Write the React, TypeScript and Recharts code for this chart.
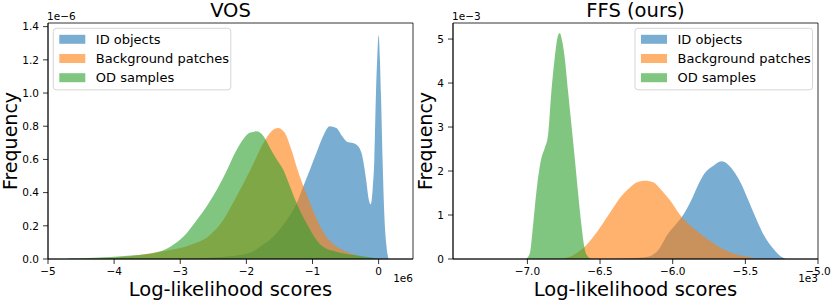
import React from "react";
import { Area, ComposedChart, ReferenceArea, XAxis, YAxis } from "recharts";

const FONT = "'DejaVu Sans', sans-serif";

const seriesNames = ["ID objects", "Background patches", "OD samples"];
const seriesKeys = ["id", "bg", "od"];
const seriesColors = ["#1f77b4", "#ff7f0e", "#2ca02c"];

// VOS: x in 1e6, y in 1e-6
const vosIdX = [-2.7, -2.4, -2.1, -1.9, -1.79, -1.59, -1.39, -1.24, -1.14, -1.04, -0.94, -0.84, -0.74, -0.64, -0.55, -0.47, -0.41, -0.34, -0.26, -0.19, -0.15, -0.12, -0.09, -0.065, -0.04, -0.02, 0.0, 0.02, 0.035, 0.06, 0.085, 0.12, 0.15];
const vosIdY = [0.004, 0.012, 0.024, 0.045, 0.074, 0.135, 0.235, 0.336, 0.437, 0.537, 0.64, 0.74, 0.8, 0.79, 0.74, 0.705, 0.7, 0.69, 0.64, 0.48, 0.36, 0.33, 0.42, 0.6, 1.0, 1.22, 1.35, 1.2, 1.0, 0.6, 0.28, 0.074, 0];
const vosBgX = [-4.5, -4.0, -3.45, -3.15, -2.85, -2.55, -2.35, -2.15, -1.94, -1.74, -1.62, -1.52, -1.42, -1.32, -1.22, -1.1, -1.0, -0.9, -0.8, -0.7, -0.55, -0.4, -0.25, -0.1];
const vosBgY = [0.002, 0.008, 0.034, 0.054, 0.085, 0.145, 0.235, 0.376, 0.537, 0.7, 0.77, 0.789, 0.76, 0.66, 0.53, 0.4, 0.3, 0.21, 0.14, 0.095, 0.055, 0.03, 0.012, 0];
const vosOdX = [-4.7, -4.3, -4.0, -3.7, -3.4, -3.15, -2.95, -2.75, -2.58, -2.42, -2.3, -2.17, -2.05, -1.95, -1.85, -1.74, -1.64, -1.54, -1.44, -1.34, -1.24, -1.09, -0.94, -0.84, -0.64, -0.4, -0.19, 0.0];
const vosOdY = [0.003, 0.008, 0.013, 0.022, 0.036, 0.074, 0.135, 0.235, 0.33, 0.437, 0.53, 0.64, 0.72, 0.76, 0.769, 0.74, 0.668, 0.6, 0.537, 0.437, 0.336, 0.215, 0.115, 0.074, 0.044, 0.025, 0.014, 0];
const vosXTicks = [-5, -4, -3, -2, -1, 0];
const vosYTicks = [0, 0.2, 0.4, 0.6, 0.8, 1.0, 1.2, 1.4];

// FFS: x in 1e3, y in 1e-3
const ffsIdX = [-6.4, -6.25, -6.17, -6.1, -6.03, -5.97, -5.92, -5.87, -5.83, -5.78, -5.72, -5.665, -5.62, -5.57, -5.52, -5.48, -5.43, -5.38, -5.3, -5.26, -5.22];
const ffsIdY = [0, 0.02, 0.05, 0.2, 0.585, 0.82, 1.04, 1.35, 1.65, 1.95, 2.12, 2.22, 2.15, 1.95, 1.65, 1.34, 0.95, 0.585, 0.205, 0.07, 0];
const ffsBgX = [-6.8, -6.72, -6.64, -6.594, -6.52, -6.456, -6.41, -6.365, -6.296, -6.25, -6.19, -6.13, -6.1, -6.06, -6.02, -5.98, -5.94, -5.88, -5.814, -5.73, -5.642, -5.56, -5.482, -5.42];
const ffsBgY = [0, 0.04, 0.18, 0.32, 0.62, 0.93, 1.16, 1.38, 1.62, 1.74, 1.78, 1.74, 1.65, 1.5, 1.34, 1.15, 0.96, 0.76, 0.585, 0.38, 0.205, 0.1, 0.05, 0];
const ffsOdX = [-7.01, -6.984, -6.961, -6.938, -6.904, -6.881, -6.858, -6.835, -6.812, -6.795, -6.778, -6.76, -6.743, -6.72, -6.697, -6.674, -6.652, -6.628, -6.606, -6.585, -6.56];
const ffsOdY = [0, 0.12, 0.77, 1.53, 2.29, 2.52, 2.82, 3.81, 4.57, 5.0, 5.14, 4.95, 4.57, 3.81, 3.05, 2.29, 1.53, 0.77, 0.24, 0.06, 0];
const ffsXTicks = [-7.0, -6.5, -6.0, -5.5, -5.0];
const ffsYTicks = [0, 1, 2, 3, 4, 5];

function mergeRows(xsList: number[][], ysList: number[][]) {
  const rows: Record<string, number>[] = [];
  xsList.forEach((xs, s) => {
    xs.forEach((x, i) => rows.push({ x, [seriesKeys[s]]: ysList[s][i] }));
  });
  return rows.sort((a, b) => a.x - b.x);
}

const minus = (s: string) => s.replace("-", "\u2212");

type PanelProps = {
  left: number;
  width: number;
  plotLeft: number;
  plotRight: number;
  rows: Record<string, number>[];
  xDomain: [number, number];
  yDomain: [number, number];
  xTicks: number[];
  yTicks: number[];
  xFmt: (v: number) => string;
  yFmt: (v: number) => string;
  title: string;
  xExp: string;
  yExp: string;
  legendLeft: number;
};

const PLOT_TOP = 23;
const PLOT_BOTTOM = 259;
const H = 301;

function Panel(p: PanelProps) {
  const tickStyle = { fill: "#000", fontSize: 10.5, fontFamily: FONT };
  const cx = (p.plotLeft + p.plotRight) / 2;
  const cy = (PLOT_TOP + PLOT_BOTTOM) / 2;
  const rowY = [39.3, 58.5, 77.7];
  return (
    <div style={{ position: "absolute", left: p.left, top: 0, width: p.width, height: H }}>
      <ComposedChart
        width={p.width}
        height={H}
        data={p.rows}
        margin={{ top: PLOT_TOP, right: p.width - p.plotRight, bottom: 0, left: 0 }}
      >
        <XAxis
          dataKey="x"
          type="number"
          domain={p.xDomain}
          ticks={p.xTicks}
          tickFormatter={p.xFmt}
          height={H - PLOT_BOTTOM}
          tickSize={5}
          tickMargin={4}
          stroke="#000"
          strokeWidth={0.8}
          tick={tickStyle}
          allowDataOverflow
        />
        <YAxis
          type="number"
          domain={p.yDomain}
          ticks={p.yTicks}
          tickFormatter={p.yFmt}
          width={p.plotLeft}
          tickSize={5}
          tickMargin={4}
          stroke="#000"
          strokeWidth={0.8}
          tick={tickStyle}
          allowDataOverflow
        />
        {seriesKeys.map((k, i) => (
          <Area
            key={k}
            dataKey={k}
            name={seriesNames[i]}
            type="monotone"
            connectNulls
            stroke="none"
            fill={seriesColors[i]}
            fillOpacity={0.6}
            isAnimationActive={false}
            dot={false}
            activeDot={false}
          />
        ))}
        <ReferenceArea
          x1={p.xDomain[0]}
          x2={p.xDomain[1]}
          y1={p.yDomain[0]}
          y2={p.yDomain[1]}
          fill="none"
          stroke="#000"
          strokeWidth={0.8}
        />
      </ComposedChart>
      <svg
        width={p.width}
        height={H}
        style={{ position: "absolute", left: 0, top: 0, pointerEvents: "none" }}
        fontFamily={FONT}
      >
        <text x={cx} y={16.5} fontSize={19.5} textAnchor="middle">{p.title}</text>
        <text x={cx} y={296} fontSize={19.5} textAnchor="middle">Log-likelihood scores</text>
        <text x={17} y={cy} fontSize={19} textAnchor="middle" transform={`rotate(-90 17 ${cy})`}>
          Frequency
        </text>
        <text x={p.plotLeft - 1} y={19.5} fontSize={10.5}>{p.yExp}</text>
        <text x={p.plotRight} y={282} fontSize={10.5} textAnchor="end">{p.xExp}</text>
        <g transform={`translate(${p.legendLeft},28.3)`}>
          <rect x={0} y={0} width={177.5} height={61.5} rx={3} fill="#fff" fillOpacity={0.8} stroke="#cccccc" strokeWidth={0.8} />
          {seriesNames.map((n, i) => (
            <g key={n}>
              <rect x={6} y={rowY[i] - 28.3 - 4.5} width={26} height={9} fill={seriesColors[i]} fillOpacity={0.6} />
              <text x={42.5} y={rowY[i] - 28.3 + 4.7} fontSize={13}>{n}</text>
            </g>
          ))}
        </g>
      </svg>
    </div>
  );
}

export default function App() {
  const vosRows = mergeRows([vosIdX, vosBgX, vosOdX], [vosIdY, vosBgY, vosOdY]);
  const ffsRows = mergeRows([ffsIdX, ffsBgX, ffsOdX], [ffsIdY, ffsBgY, ffsOdY]);
  return (
    <div style={{ position: "absolute", left: 0, top: 0, width: 831, height: H, background: "#fff" }}>
      <Panel
        left={0}
        width={415}
        plotLeft={48}
        plotRight={413}
        rows={vosRows}
        xDomain={[-5, 0.52]}
        yDomain={[0, 1.422]}
        xTicks={vosXTicks}
        yTicks={vosYTicks}
        xFmt={(v) => minus(String(v))}
        yFmt={(v) => v.toFixed(1)}
        title="VOS"
        xExp="1e6"
        yExp={"1e\u22126"}
        legendLeft={53.3}
      />
      <Panel
        left={415}
        width={416}
        plotLeft={38}
        plotRight={403}
        rows={ffsRows}
        xDomain={[-7.512, -5.0]}
        yDomain={[0, 5.365]}
        xTicks={ffsXTicks}
        yTicks={ffsYTicks}
        xFmt={(v) => minus(v.toFixed(1))}
        yFmt={(v) => String(v)}
        title="FFS (ours)"
        xExp="1e3"
        yExp={"1e\u22123"}
        legendLeft={220}
      />
    </div>
  );
}
